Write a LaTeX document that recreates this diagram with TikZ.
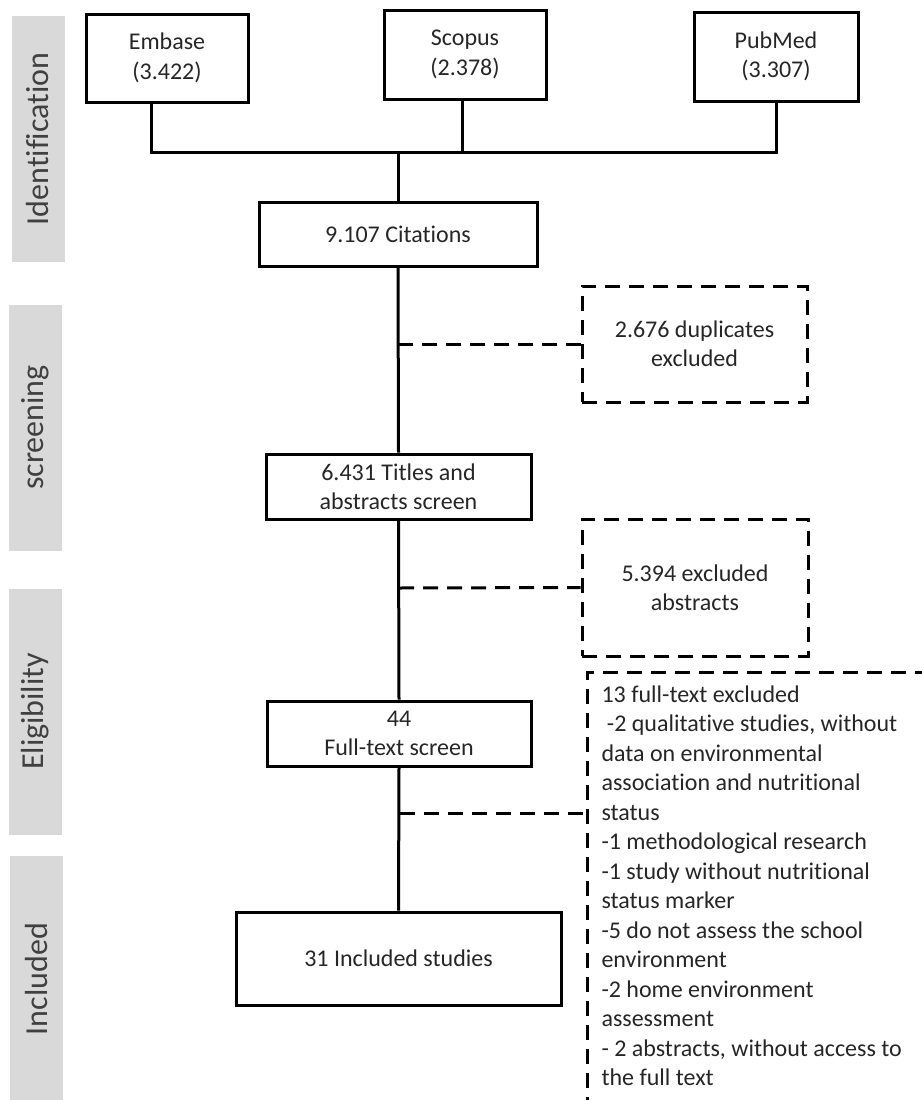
\documentclass[tikz,border=0pt]{standalone}
\usepackage{fontspec}
\setmainfont{Carlito}[Ligatures=NoCommon]
\usepackage{tikz}
\definecolor{bargray}{RGB}{217,217,217}
\definecolor{inkgray}{RGB}{38,38,38}
\definecolor{labelgray}{RGB}{64,64,64}

\begin{document}
\begin{tikzpicture}[x=1pt,y=1pt,
  box/.style={draw=black,line width=3pt,rectangle,align=center,text=inkgray,font=\fontsize{24}{29.5}\selectfont},
  exbox/.style={box,dash pattern=on 15pt off 9pt},
  phase/.style={fill=bargray,rotate=90,minimum width=246pt,minimum height=53pt,text=labelgray,font=\fontsize{32}{38}\selectfont},
  link/.style={black,line width=3pt},
  exlink/.style={link,dash pattern=on 15pt off 9pt}]
\tikzstyle{every node}+=[inner sep=0pt]
\useasboundingbox (0,0) rectangle (921,-1100);
\node [phase] (identification) at (38,-139) {Identification};
\node [phase] (screening) at (35,-427.5) {screening};
\node [phase] (eligibility) at (35,-711.5) {Eligibility};
\node [phase] (included) at (36.5,-979) {Included};
\node [box,minimum width=162pt,minimum height=88pt] (embase) at (167,-58) {Embase\\(3.422)};
\node [box,minimum width=162pt,minimum height=89pt] (scopus) at (465,-54.5) {Scopus\\(2.378)};
\node [box,minimum width=164pt,minimum height=89pt] (pubmed) at (776,-56.5) {PubMed\\(3.307)};
\node [box,minimum width=278pt,minimum height=64pt] (citations) at (398,-234) {9.107 Citations};
\node [box,minimum width=265pt,minimum height=65pt] (titles) at (398.5,-486.5) {6.431 Titles and\\abstracts screen};
\node [box,minimum width=264pt,minimum height=65pt] (fulltext) at (399,-733.5) {44\\Full-text screen};
\node [box,minimum width=325pt,minimum height=93pt] (studies) at (398.5,-958.5) {31 Included studies};
\node [exbox,minimum width=225pt,minimum height=116pt] (duplicates) at (694.5,-344) {2.676 duplicates\\excluded};
\node [exbox,minimum width=226pt,minimum height=137pt] (abstracts) at (695,-587.5) {5.394 excluded\\abstracts};
\node [box,draw=none,anchor=north west,align=left,inner xsep=13pt,inner ysep=12pt] (reasons) at (587,-672) {13 full-text excluded\\
\ -2 qualitative studies, without\\
data on environmental\\
association and nutritional\\
status\\
-1 methodological research\\
-1 study without nutritional\\
status marker\\
-5 do not assess the school\\
environment\\
-2 home environment\\
assessment\\
- 2 abstracts, without access to\\
the full text};
\draw [exlink] (reasons.north west) ++(0,-440) -- (reasons.north west) -- ++(350,0);
\coordinate (merge) at (398,-152);
\coordinate (cut1) at (398,-344);
\coordinate (cut2) at (399,-588);
\coordinate (cut3) at (400,-813);
\draw [link] ([xshift=-16pt]embase.south) |- (pubmed.south |- merge) -- (pubmed.south);
\draw [link] ([xshift=-3pt]scopus.south) -- ([xshift=-3pt]scopus.south |- merge);
\draw [link] (merge) -- (citations.north);
\draw [link] (citations.south) -- (titles.north);
\draw [link] (titles.south) -- (fulltext.north);
\draw [link] (fulltext.south) -- (studies.north);
\draw [exlink] (cut1) -- (duplicates.west);
\draw [exlink] (cut2) -- (abstracts.west);
\draw [exlink] (cut3) -- (cut3 -| reasons.west);
\end{tikzpicture}
\end{document}
